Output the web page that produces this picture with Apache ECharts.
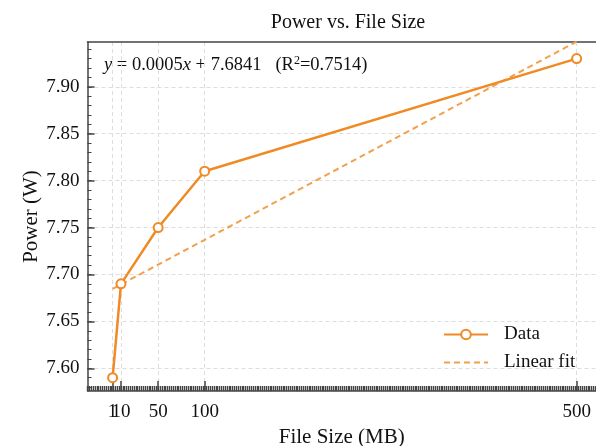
<!DOCTYPE html>
<html><head><meta charset="utf-8">
<script src="https://cdn.jsdelivr.net/npm/echarts@6/dist/echarts.min.js"></script>
<style>html,body{margin:0;padding:0;background:#fff}#c{width:596px;height:446px}</style>
</head><body><div id="c"></div>
<script>
const fileSizes = [1, 10, 50, 100, 500];
const powerValues = [7.59, 7.69, 7.75, 7.81, 7.93];
const xTickLabels = [1, 10, 50, 100, 500];
const yTickLabels = [7.60, 7.65, 7.70, 7.75, 7.80, 7.85, 7.90];
const fitSlope = 0.000528;
const fitIntercept = 7.6841;

const fitData = [fileSizes[0], fileSizes[fileSizes.length - 1]].map(x => [x, fitIntercept + fitSlope * x]);

const yMin = 7.5758, yMax = 7.9477;
const xMin = -26, xMax = 520.8;
const yMinor = [];
for (let v = 7.58; v <= 7.945; v += 0.01) yMinor.push(+v.toFixed(2));

const font = 'Liberation Serif';
const axisColor = '#444';
const orange = '#F08A24';
const labelStyle = { fontFamily: font, fontSize: 19, color: '#111', margin: 12 };

const chart = echarts.init(document.getElementById('c'));
chart.setOption({
  animation: false,
  backgroundColor: '#fff',
  title: {
    text: 'Power vs. File Size', left: 343, top: 8, textAlign: 'center',
    textStyle: { fontFamily: font, fontSize: 20, fontWeight: 'normal', color: '#111' }
  },
  grid: { left: 87.5, right: 0, top: 42, bottom: 55, outerBoundsMode: 'none', containLabel: false },
  legend: {
    left: 443, top: 325, padding: 0, orient: 'vertical', itemWidth: 44, itemHeight: 12, itemGap: 9,
    textStyle: { fontFamily: font, fontSize: 19, color: '#111', padding: [0, 0, 0, 11] },
    data: [{ name: 'Data' }, { name: 'Linear fit', itemStyle: { opacity: 0 } }]
  },
  xAxis: [{
    type: 'value', min: xMin, max: xMax,
    name: 'File Size (MB)', nameLocation: 'middle', nameGap: 33,
    nameTextStyle: { fontFamily: font, fontSize: 21, color: '#111' },
    axisLine: { onZero: false, lineStyle: { color: axisColor, width: 1.5 } },
    axisTick: { inside: true, length: 10, customValues: xTickLabels, lineStyle: { color: axisColor, width: 1.5 } },
    axisLabel: Object.assign({ customValues: xTickLabels.slice(1), showMinLabel: true }, labelStyle),
    splitLine: { show: true, lineStyle: { color: '#ddd', type: [4, 3], width: 1 } }
  }, {
    type: 'value', min: xMin, max: xMax, position: 'bottom', interval: 2,
    axisLine: { show: false, onZero: false },
    axisTick: { inside: true, length: 5, lineStyle: { color: axisColor, width: 1.4 } },
    axisLabel: { show: false },
    splitLine: { show: false }
  }, {
    type: 'value', min: xMin, max: xMax, position: 'top',
    axisLine: { show: true, onZero: false, lineStyle: { color: axisColor, width: 1.5 } },
    axisTick: { show: false }, axisLabel: { show: false }, splitLine: { show: false }
  }, {
    type: 'value', min: xMin, max: xMax, position: 'bottom',
    axisLine: { show: false, onZero: false },
    axisTick: { show: false },
    axisLabel: Object.assign({ customValues: xTickLabels.slice(0, 1), showMinLabel: true }, labelStyle),
    splitLine: { show: false }
  }],
  yAxis: [{
    type: 'value', min: yMin, max: yMax,
    name: 'Power (W)', nameLocation: 'middle', nameGap: 46, nameMoveOverlap: false,
    nameTextStyle: { fontFamily: font, fontSize: 21, color: '#111' },
    axisLine: { show: true, onZero: false, lineStyle: { color: axisColor, width: 1.5 } },
    axisTick: { inside: true, length: 7, customValues: yTickLabels, lineStyle: { color: axisColor, width: 1.5 } },
    axisLabel: { customValues: yTickLabels, formatter: v => v.toFixed(2), fontFamily: font, fontSize: 19, color: '#111', margin: 8 },
    splitLine: { show: true, lineStyle: { color: '#ddd', type: [4, 3], width: 1 } }
  }, {
    type: 'value', min: yMin, max: yMax, position: 'left',
    axisLine: { show: false, onZero: false },
    axisTick: { inside: true, length: 4, customValues: yMinor, lineStyle: { color: axisColor, width: 1 } },
    axisLabel: { show: false }, splitLine: { show: false }
  }],
  graphic: [{
    type: 'text', left: 104, top: 55,
    style: {
      text: '{i|y}{n| = 0.0005}{i|x}{n| + 7.6841   (R}{s|2}{n|=0.7514)}',
      rich: {
        i: { fontFamily: font, fontStyle: 'italic', fontSize: 18.5, fill: '#111' },
        n: { fontFamily: font, fontSize: 18.5, fill: '#111' },
        s: { fontFamily: font, fontSize: 12, fill: '#111', verticalAlign: 'top', padding: [0, 0, 8, 0] }
      }
    }
  }],
  series: [{
    name: 'Data', type: 'line', xAxisIndex: 0, yAxisIndex: 0,
    data: fileSizes.map((x, i) => [x, powerValues[i]]),
    symbol: 'emptyCircle', symbolSize: 9,
    lineStyle: { color: orange, width: 2.5 },
    itemStyle: { color: orange, borderColor: orange, borderWidth: 1.6 },
    z: 3
  }, {
    name: 'Linear fit', type: 'line', xAxisIndex: 0, yAxisIndex: 0,
    data: fitData, symbol: 'none', clip: true,
    lineStyle: { color: '#F2A04E', width: 2, type: [6, 4] },
    itemStyle: { color: '#F2A04E' },
    z: 2
  }]
});
</script></body></html>
